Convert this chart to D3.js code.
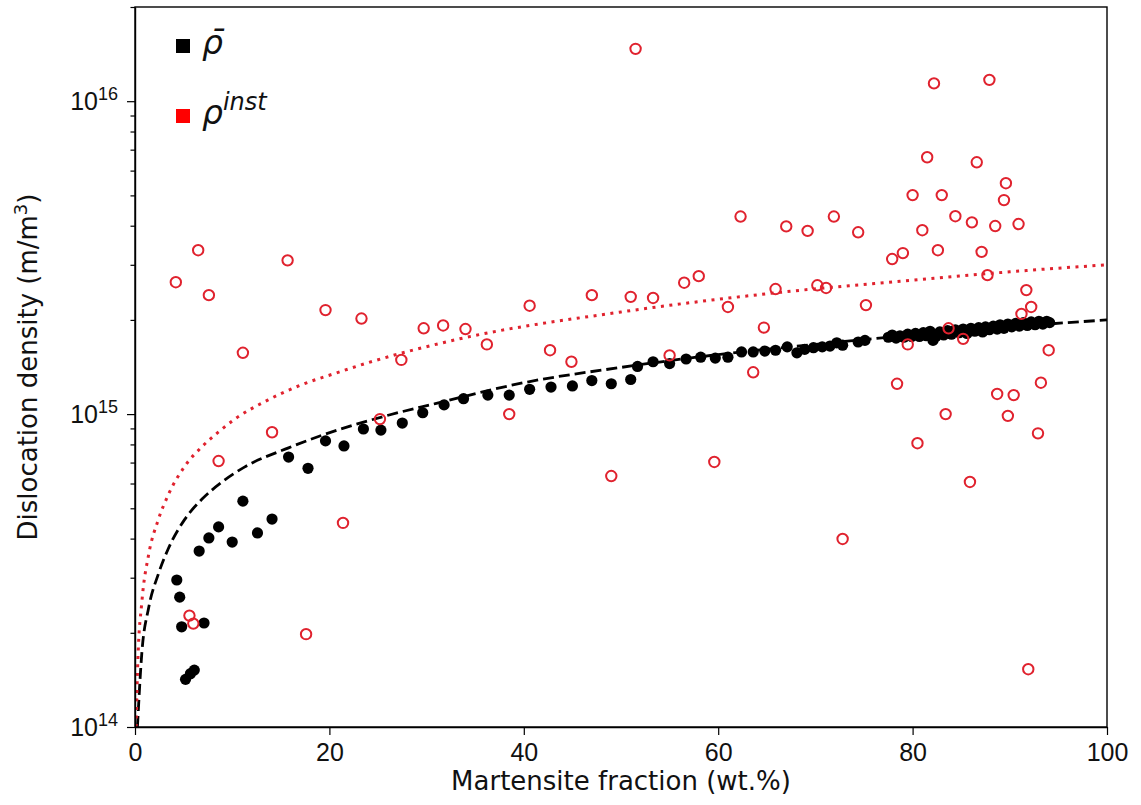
<!DOCTYPE html>
<html>
<head>
<meta charset="utf-8">
<script src="https://cdn.jsdelivr.net/npm/d3@7/dist/d3.min.js"></script>
<style>
  body { margin: 0; background: #fff; }
  svg { display: block; font-family: "DejaVu Sans", sans-serif; }
</style>
</head>
<body>
<div id="chart"></div>
<script>
// mean dislocation density (black dots)
const meanFrac = [4.3, 4.6, 4.8, 7.1, 5.2, 5.7, 6.1, 6.6, 7.6, 8.6, 10.0, 11.1, 12.6, 14.1, 15.8, 17.8,
  19.6, 21.5, 23.5, 25.3, 27.5, 29.6, 31.8, 33.8, 36.3, 38.5, 40.6, 42.8, 45.0, 47.0, 49.0, 51.0,
  51.7, 53.3, 55.0, 56.7, 58.2, 59.7, 61.0, 62.4, 63.6, 64.8, 65.9, 67.1, 68.1, 68.9, 69.8, 70.7,
  71.5, 72.2, 72.8, 74.4, 75.1,
  77.5, 77.9, 78.3, 78.7, 79.1, 79.5, 79.9, 80.3, 80.7, 81.1, 81.4, 81.8, 82.1, 82.4, 82.8, 83.2,
  83.6, 84.0, 84.4, 84.8, 85.2, 85.6, 86.0, 86.4, 86.8, 87.2, 87.5, 87.9, 88.3, 88.7, 89.0, 89.4,
  89.8, 90.2, 90.6, 91.0, 91.4, 91.8, 92.2, 92.6, 93.0, 93.4, 93.8, 94.1]
const meanRho = [2.95e14, 2.60e14, 2.09e14, 2.15e14, 1.42e14, 1.48e14, 1.52e14, 3.65e14, 4.02e14, 4.36e14,
  3.90e14, 5.27e14, 4.17e14, 4.62e14, 7.29e14, 6.71e14,
  8.21e14, 7.91e14, 8.96e14, 8.89e14, 9.36e14, 1.01e15, 1.07e15, 1.12e15, 1.15e15, 1.15e15, 1.20e15,
  1.22e15, 1.23e15, 1.28e15, 1.25e15, 1.29e15,
  1.42e15, 1.47e15, 1.45e15, 1.50e15, 1.52e15, 1.51e15, 1.52e15, 1.58e15, 1.58e15, 1.59e15, 1.60e15,
  1.64e15, 1.57e15, 1.61e15, 1.63e15, 1.64e15,
  1.65e15, 1.69e15, 1.66e15, 1.70e15, 1.72e15,
  1.76e15, 1.79e15, 1.75e15, 1.78e15, 1.76e15, 1.80e15, 1.77e15, 1.81e15, 1.77e15, 1.82e15, 1.78e15,
  1.84e15, 1.72e15, 1.77e15, 1.83e15, 1.79e15,
  1.85e15, 1.80e15, 1.86e15, 1.82e15, 1.87e15, 1.81e15, 1.88e15, 1.84e15, 1.89e15, 1.83e15, 1.90e15,
  1.86e15, 1.91e15, 1.87e15, 1.93e15, 1.88e15,
  1.94e15, 1.90e15, 1.95e15, 1.91e15, 1.96e15, 1.92e15, 1.97e15, 1.93e15, 1.98e15, 1.94e15, 1.98e15, 1.96e15]

// instantaneous dislocation density (red open circles)
const instFrac = [4.2, 6.5, 7.6, 5.6, 6.0, 8.6, 11.1, 14.1, 15.7, 17.6, 19.6, 21.4, 23.3, 25.2, 27.4,
  29.7, 31.7, 34.0, 36.2, 38.5, 40.6, 42.7, 44.9, 47.0, 49.0, 51.0, 51.5, 53.3, 55.0, 56.5, 58.0,
  59.6, 61.0, 62.3, 63.6, 64.7, 65.9, 67.0, 69.2, 70.2, 71.1, 71.9, 72.8, 74.4, 75.2, 77.9, 78.4,
  79.0, 79.5, 80.0, 80.5, 81.0, 81.5, 82.2, 82.6, 83.0, 83.4, 83.7, 84.4, 85.2, 85.9, 86.1, 86.6,
  87.1, 87.7, 87.9, 88.5, 88.7, 89.4, 89.6, 89.8, 90.4, 90.9, 91.2, 91.7, 91.9, 92.2, 92.9, 93.2, 94.0]
const instRho = [2.64e15, 3.34e15, 2.40e15, 2.27e14, 2.14e14, 7.08e14, 1.57e15, 8.75e14, 3.10e15, 1.98e14,
  2.15e15, 4.49e14, 2.02e15, 9.64e14, 1.49e15,
  1.88e15, 1.92e15, 1.87e15, 1.67e15, 1.0e15, 2.22e15, 1.60e15, 1.47e15, 2.40e15, 6.34e14, 2.37e15,
  1.47e16, 2.35e15, 1.54e15, 2.63e15, 2.76e15,
  7.03e14, 2.20e15, 4.28e15, 1.36e15, 1.89e15, 2.51e15, 3.98e15, 3.85e15, 2.58e15, 2.53e15, 4.28e15,
  3.99e14, 3.81e15, 2.23e15, 3.13e15, 1.25e15,
  3.27e15, 1.67e15, 5.01e15, 8.07e14, 3.87e15, 6.62e15, 1.14e16, 3.34e15, 5.01e15, 1.0e15, 1.88e15,
  4.29e15, 1.74e15, 6.07e14, 4.10e15, 6.38e15,
  3.30e15, 2.78e15, 1.17e16, 3.99e15, 1.16e15, 4.83e15, 5.47e15, 9.87e14, 1.15e15, 4.05e15, 2.09e15,
  2.49e15, 1.53e14, 2.20e15, 8.68e14, 1.26e15, 1.60e15]

// fitted trend curves
const meanFitFrac = [0.25, 0.7, 1.4, 2.4, 3.4, 5.1, 6.9, 8.9, 11.3, 15.8, 19.2, 25.7, 30.9, 40, 50, 60, 70, 80, 90, 100]
const meanFitRho = [1.0e14, 1.72e14, 2.40e14, 3.08e14, 3.70e14, 4.6e14, 5.35e14, 6.05e14, 6.78e14, 7.8e14,
  8.55e14, 9.85e14, 1.08e15, 1.26e15, 1.41e15, 1.55e15, 1.67e15, 1.79e15, 1.90e15, 2.0e15]
const instFitFrac = [0.11, 0.3, 0.7, 1.4, 2.4, 3.4, 5.1, 6.9, 8.6, 10.3, 13.7, 17.1, 20.6, 24.0, 33.4, 50, 66.4, 80, 90, 100]
const instFitRho = [1.0e14, 1.65e14, 2.5e14, 3.55e14, 4.6e14, 5.5e14, 6.8e14, 7.87e14, 8.77e14, 9.65e14,
  1.11e15, 1.24e15, 1.35e15, 1.46e15, 1.74e15, 2.12e15, 2.45e15, 2.68e15, 2.85e15, 3.0e15]

const xTicks = [0, 20, 40, 60, 80, 100]
const yTicks = [1e14, 1e15, 1e16]

const red = '#e0222e'

function draw() {
  let dimensions = {
    width: 1141,
    height: 805,
    margins: { top: 7, right: 34, bottom: 78, left: 135 },
  }
  dimensions.ctrWidth = dimensions.width - dimensions.margins.left - dimensions.margins.right
  dimensions.ctrHeight = dimensions.height - dimensions.margins.top - dimensions.margins.bottom

  const svg = d3.select('#chart')
    .append('svg')
    .attr('width', dimensions.width)
    .attr('height', dimensions.height)

  const ctr = svg.append('g')
    .attr('transform', `translate(${dimensions.margins.left}, ${dimensions.margins.top})`)

  // Scales
  const xScale = d3.scaleLinear()
    .domain([0, 100])
    .range([0, dimensions.ctrWidth])

  const yScale = d3.scaleLog()
    .domain([1e14, 2e16])
    .range([dimensions.ctrHeight, 0])

  ctr.append('clipPath').attr('id', 'clip')
    .append('rect')
    .attr('width', dimensions.ctrWidth)
    .attr('height', dimensions.ctrHeight)

  // fit lines
  const lineGenerator = d3.line()
    .x(d => xScale(d[0]))
    .y(d => yScale(d[1]))
    .curve(d3.curveMonotoneX)

  const lines = ctr.append('g').attr('clip-path', 'url(#clip)')

  lines.append('path')
    .datum(meanFitFrac.map((f, i) => [f, meanFitRho[i]]))
    .attr('d', lineGenerator)
    .attr('fill', 'none')
    .attr('stroke', '#000')
    .attr('stroke-width', 2.8)
    .attr('stroke-dasharray', '11,5')

  lines.append('path')
    .datum(instFitFrac.map((f, i) => [f, instFitRho[i]]))
    .attr('d', lineGenerator)
    .attr('fill', 'none')
    .attr('stroke', red)
    .attr('stroke-width', 3)
    .attr('stroke-dasharray', '3,5.5')

  // points
  ctr.append('g')
    .selectAll('circle')
    .data(meanFrac.map((f, i) => [f, meanRho[i]]))
    .join('circle')
    .attr('cx', d => xScale(d[0]))
    .attr('cy', d => yScale(d[1]))
    .attr('r', 5.6)
    .attr('fill', '#000')

  ctr.append('g')
    .selectAll('circle')
    .data(instFrac.map((f, i) => [f, instRho[i]]))
    .join('circle')
    .attr('cx', d => xScale(d[0]))
    .attr('cy', d => yScale(d[1]))
    .attr('r', 5.2)
    .attr('fill', 'none')
    .attr('stroke', red)
    .attr('stroke-width', 2)

  // Axes
  const xAxis = d3.axisBottom(xScale)
    .tickValues(xTicks)
    .tickSize(8)
    .tickPadding(8)
    .tickSizeOuter(0)

  const xAxisG = ctr.append('g')
    .attr('transform', `translate(0, ${dimensions.ctrHeight})`)
    .call(xAxis)
  xAxisG.selectAll('text').attr('font-size', 25).attr('fill', '#111')

  const minorTicks = []
  yTicks.slice(0, -1).forEach(t => { for (let k = 2; k <= 9; k++) minorTicks.push(t * k) })
  minorTicks.push(2e16)

  ctr.append('g')
    .call(d3.axisLeft(yScale).tickValues(minorTicks).tickSize(4.5).tickFormat(() => '').tickSizeOuter(0))
    .select('.domain').remove()

  const yAxisG = ctr.append('g')
    .call(d3.axisLeft(yScale).tickValues(yTicks).tickSize(8).tickPadding(9)
      .tickFormat(() => '').tickSizeOuter(0))

  yAxisG.selectAll('.tick text').each(function(d) {
    const t = d3.select(this).attr('font-size', 25).attr('fill', '#111')
    t.append('tspan').text('10')
    t.append('tspan').attr('dy', -10).attr('font-size', 18).text(Math.round(Math.log10(d)))
  })

  ctr.selectAll('.domain').attr('stroke-width', 1.4)
  ctr.selectAll('.tick line').attr('stroke-width', 1.2)

  // frame
  ctr.append('rect')
    .attr('width', dimensions.ctrWidth)
    .attr('height', dimensions.ctrHeight)
    .attr('fill', 'none')
    .attr('stroke', '#000')
    .attr('stroke-width', 1.4)

  // axis labels
  svg.append('text')
    .attr('x', dimensions.margins.left + dimensions.ctrWidth / 2)
    .attr('y', 790)
    .attr('text-anchor', 'middle')
    .attr('font-size', 26)
    .attr('fill', '#111')
    .text('Martensite fraction (wt.%)')

  const yLabel = svg.append('text')
    .attr('transform', `translate(37, ${dimensions.margins.top + dimensions.ctrHeight / 2}) rotate(-90)`)
    .attr('text-anchor', 'middle')
    .attr('font-size', 26)
    .attr('fill', '#111')
  yLabel.append('tspan').text('Dislocation density (m/m')
  yLabel.append('tspan').attr('dy', -10).attr('font-size', 18).text('3')
  yLabel.append('tspan').attr('dy', 10).text(')')

  // legend
  const legend = ctr.append('g')
  const items = [
    { color: '#000', label: 'ρ\u0304', sup: '' },
    { color: 'red', label: 'ρ', sup: 'inst' },
  ]
  items.forEach((it, i) => {
    const g = legend.append('g').attr('transform', `translate(48, ${39 + i * 70})`)
    g.append('rect').attr('x', -7).attr('y', -7).attr('width', 14).attr('height', 14).attr('fill', it.color)
    const t = g.append('text')
      .attr('x', 19)
      .attr('y', 8)
      .attr('font-size', 33)
      .attr('font-style', 'italic')
      .attr('fill', '#111')
    t.append('tspan').text(it.label)
    if (it.sup) t.append('tspan').attr('dy', -14).attr('font-size', 24).text(it.sup)
  })
}

draw()
</script>
</body>
</html>
